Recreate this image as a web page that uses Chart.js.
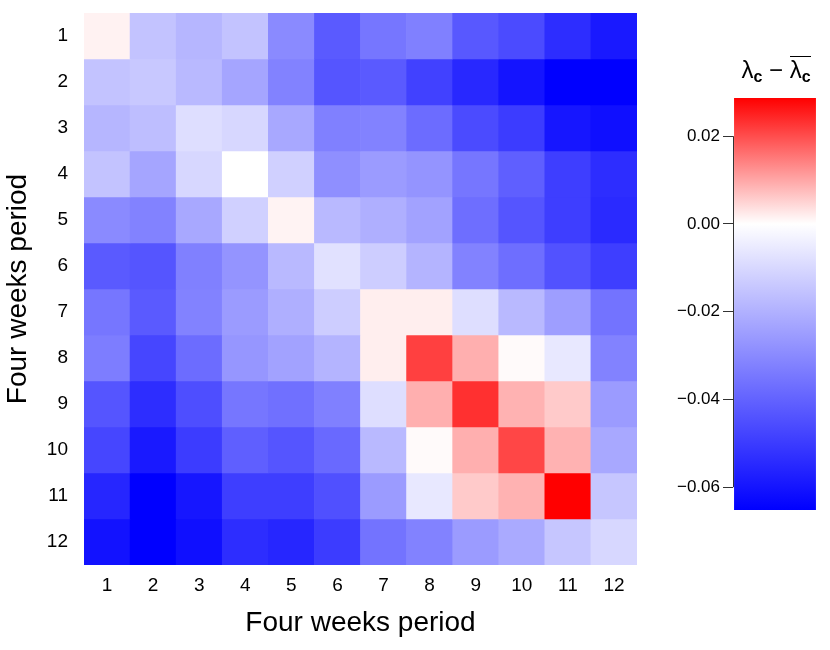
<!DOCTYPE html>
<html>
<head>
<meta charset="utf-8">
<script src="https://cdn.jsdelivr.net/npm/chart.js@4.4.0/dist/chart.umd.min.js"></script>
<style>
  body { margin: 0; background: #fff; font-family: "Liberation Sans", Arial, sans-serif; }
  #wrap { position: relative; width: 830px; height: 650px; }
  #heat { position: absolute; left: 0; top: 0; width: 660px; height: 650px; }
  #bar { position: absolute; left: 660px; top: 0; width: 170px; height: 650px; }
  #barTitle { position: absolute; left: 725px; top: 56px; width: 102px; text-align: center;
    font-size: 24px; line-height: 28px; color: #000; white-space: nowrap; }
  #barTitle sub { font-size: 16px; font-weight: bold; vertical-align: -4px; line-height: 0; }
  .ov { display: inline-block; border-top: 1.5px solid #000; line-height: 24px; padding-top: 1px; }
</style>
</head>
<body>
<div id="wrap">
  <div id="heat"><canvas id="heatChart"></canvas></div>
  <div id="bar"><canvas id="barChart"></canvas></div>
  <div id="barTitle">λ<sub>c</sub> − <span class="ov">λ<sub>c</sub></span></div>
</div>
<script>
// four-week periods (rows and columns)
const periods = ['1', '2', '3', '4', '5', '6', '7', '8', '9', '10', '11', '12'];

// lambda_c - mean(lambda_c), one row per period (row 1 at the top)
const lambdaDiff = [
  [ 0.0015, -0.0153, -0.0187, -0.0153, -0.0299, -0.0422, -0.0350, -0.0325, -0.0427, -0.0460, -0.0537, -0.0588],
  [-0.0153, -0.0141, -0.0179, -0.0230, -0.0320, -0.0435, -0.0422, -0.0486, -0.0550, -0.0600, -0.0652, -0.0652],
  [-0.0187, -0.0166, -0.0084, -0.0102, -0.0222, -0.0325, -0.0320, -0.0376, -0.0460, -0.0499, -0.0596, -0.0614],
  [-0.0153, -0.0230, -0.0102,  0.0000, -0.0120, -0.0286, -0.0256, -0.0274, -0.0350, -0.0410, -0.0493, -0.0537],
  [-0.0299, -0.0320, -0.0222, -0.0120,  0.0013, -0.0179, -0.0205, -0.0238, -0.0371, -0.0435, -0.0493, -0.0545],
  [-0.0422, -0.0435, -0.0325, -0.0274, -0.0179, -0.0077, -0.0128, -0.0192, -0.0320, -0.0371, -0.0442, -0.0493],
  [-0.0350, -0.0422, -0.0320, -0.0256, -0.0205, -0.0128,  0.0019,  0.0019, -0.0084, -0.0179, -0.0248, -0.0358],
  [-0.0332, -0.0473, -0.0376, -0.0268, -0.0238, -0.0192,  0.0019,  0.0215,  0.0090,  0.0006, -0.0059, -0.0320],
  [-0.0435, -0.0537, -0.0453, -0.0350, -0.0366, -0.0325, -0.0084,  0.0090,  0.0233,  0.0087,  0.0060, -0.0256],
  [-0.0473, -0.0588, -0.0499, -0.0410, -0.0435, -0.0384, -0.0179,  0.0006,  0.0090,  0.0208,  0.0087, -0.0222],
  [-0.0555, -0.0652, -0.0596, -0.0493, -0.0493, -0.0447, -0.0256, -0.0059,  0.0060,  0.0087,  0.0287, -0.0146],
  [-0.0606, -0.0652, -0.0614, -0.0537, -0.0555, -0.0499, -0.0358, -0.0320, -0.0256, -0.0217, -0.0146, -0.0102]
];

// colour bar ticks
const colorTicks = [-0.06, -0.04, -0.02, 0.00, 0.02];

const vMin = Math.min(...lambdaDiff.flat());
const vMax = Math.max(...lambdaDiff.flat());

// blue - white - red, white at zero
function cellColor(v) {
  if (v < 0) {
    const c = Math.round(255 * (1 - v / vMin));
    return `rgb(${c},${c},255)`;
  }
  const c = Math.round(255 * (1 - v / vMax));
  return `rgb(255,${c},${c})`;
}

const fontName = '"Liberation Sans", Arial, sans-serif';

// each row is a stacked dataset of unit-height bars
const datasets = lambdaDiff.map((row, i) => ({
  label: 'Period ' + periods[i],
  data: row.map(() => 1),
  values: row,
  backgroundColor: row.map(cellColor),
  borderWidth: 0,
  barPercentage: 1,
  categoryPercentage: 1
}));

new Chart(document.getElementById('heatChart'), {
  type: 'bar',
  data: { labels: periods, datasets: datasets },
  options: {
    responsive: true,
    maintainAspectRatio: false,
    animation: false,
    layout: { padding: { top: 13, right: 23, left: 0, bottom: 0 } },
    plugins: {
      legend: { display: false },
      tooltip: {
        callbacks: {
          label: (c) => 'row ' + periods[c.datasetIndex] + ', col ' + c.label + ': ' +
            c.dataset.values[c.dataIndex].toFixed(4)
        }
      }
    },
    scales: {
      x: {
        stacked: true,
        grid: { display: false, drawTicks: false },
        border: { display: false },
        ticks: { color: '#000', padding: 9, font: { family: fontName, size: 19 } },
        title: { display: true, text: 'Four weeks period', color: '#000',
          padding: { top: 0, bottom: 10 }, font: { family: fontName, size: 28 } },
        afterFit: (s) => { s.height = 85; s.paddingLeft = 0; s.paddingRight = 0; }
      },
      y: {
        stacked: true,
        reverse: true,
        min: 0,
        max: 12,
        grid: { display: false, drawTicks: false },
        border: { display: false },
        afterBuildTicks: (s) => { s.ticks = periods.map((p, i) => ({ value: i + 0.5 })); },
        ticks: {
          color: '#000', padding: 16, font: { family: fontName, size: 19 },
          callback: (v, i) => periods[i]
        },
        title: { display: true, text: 'Four weeks period', color: '#000',
          padding: { top: 1, bottom: 0 }, font: { family: fontName, size: 28 } },
        afterFit: (s) => { s.width = 84; s.paddingTop = 0; s.paddingBottom = 0; }
      }
    }
  }
});

// colour bar
const axisLine = {
  id: 'axisLine',
  afterDraw(chart) {
    const y = chart.scales.y;
    const c = chart.ctx;
    c.save();
    c.strokeStyle = '#333';
    c.lineWidth = 1;
    c.beginPath();
    c.moveTo(chart.chartArea.left + 0.5, y.getPixelForValue(colorTicks[0]));
    c.lineTo(chart.chartArea.left + 0.5, y.getPixelForValue(colorTicks[colorTicks.length - 1]));
    c.stroke();
    c.restore();
  }
};

new Chart(document.getElementById('barChart'), {
  type: 'bar',
  data: {
    labels: [''],
    datasets: [{
      data: [[vMin, vMax]],
      borderWidth: 0,
      barPercentage: 0.975,
      categoryPercentage: 1,
      backgroundColor: (ctx) => {
        const a = ctx.chart.chartArea;
        if (!a) return 'white';
        const y = ctx.chart.scales.y;
        const g = ctx.chart.ctx.createLinearGradient(0, y.getPixelForValue(vMin), 0, y.getPixelForValue(vMax));
        const z = (0 - vMin) / (vMax - vMin);
        g.addColorStop(0, 'rgb(0,0,255)');
        g.addColorStop(z, 'rgb(255,255,255)');
        g.addColorStop(1, 'rgb(255,0,0)');
        return g;
      }
    }]
  },
  plugins: [axisLine],
  options: {
    responsive: true,
    maintainAspectRatio: false,
    animation: false,
    layout: { padding: { top: 98, bottom: 140, right: 13, left: 0 } },
    plugins: { legend: { display: false }, tooltip: { enabled: false } },
    scales: {
      x: { display: false },
      y: {
        min: vMin,
        max: vMax,
        border: { display: false },
        grid: { drawOnChartArea: false, drawTicks: true, tickLength: 10, color: '#333' },
        afterBuildTicks: (s) => { s.ticks = colorTicks.map((v) => ({ value: v })); },
        ticks: {
          color: '#000', padding: 3, font: { family: fontName, size: 17 },
          callback: (v) => v.toFixed(2).replace('-', '\u2212')
        },
        afterFit: (s) => { s.width = 73; s.paddingTop = 0; s.paddingBottom = 0; }
      }
    }
  }
});
</script>
</body>
</html>
